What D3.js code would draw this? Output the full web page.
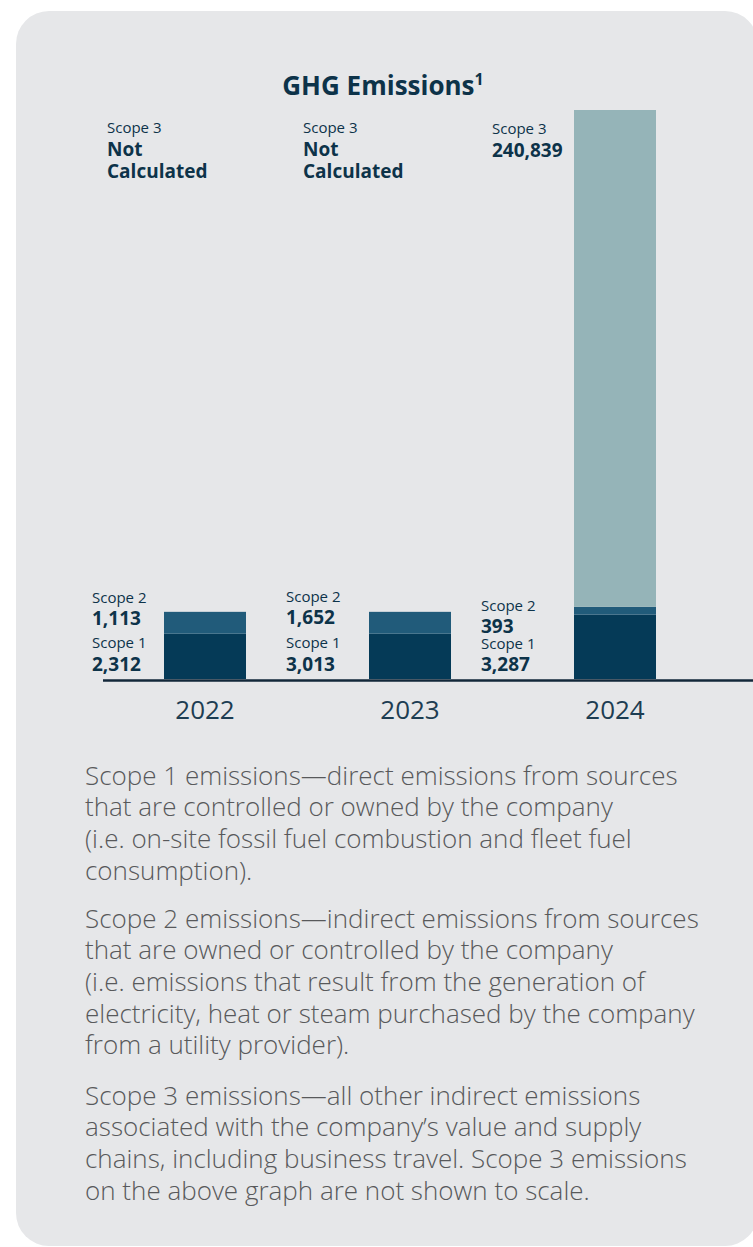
<!DOCTYPE html>
<html>
<head>
<meta charset="utf-8">
<script src="https://cdn.jsdelivr.net/npm/d3@7"></script>
<style>
  html, body { margin: 0; padding: 0; background: #ffffff; }
  svg { display: block; }
  .lbl { font-family: "Open Sans", "Noto Sans", sans-serif; fill: #0d3349; }
  .note { font-family: "Open Sans", "Noto Sans", sans-serif; font-weight: 300; fill: #58595b; }
</style>
</head>
<body>
<script>
"use strict";

// chart values
var years = ["2022", "2023", "2024"];
var scope1 = [2312, 3013, 3287];
var scope2 = [1113, 1652, 393];
var scope3 = [null, null, 240839];
// bar heights as drawn in the source graphic (2023 drawn same as 2022)
var scope1Bar = [2312, 2312, 3287];
var scope2Bar = [1113, 1113, 393];
var scope3Bar = [0, 0, 240839];

var notes = [
    ["Scope 1 emissions\u2014direct emissions from sources",
     "that are controlled or owned by the company",
     "(i.e. on-site fossil fuel combustion and fleet fuel",
     "consumption)."],
    ["Scope 2 emissions\u2014indirect emissions from sources",
     "that are owned or controlled by the company",
     "(i.e. emissions that result from the generation of",
     "electricity, heat or steam purchased by the company",
     "from a utility provider)."],
    ["Scope 3 emissions\u2014all other indirect emissions",
     "associated with the company\u2019s value and supply",
     "chains, including business travel. Scope 3 emissions",
     "on the above graph are not shown to scale."]
];

var width = 753;
var height = 1247;
var baseY = 679;
var colors = { s1: "#053a57", s2: "#215b7a", s3: "#95b4b8" };

var svg = d3.select("body").append("svg")
    .attr("width", width)
    .attr("height", height);

// panel
svg.append("rect")
    .attr("x", 16).attr("y", 11)
    .attr("width", 742).attr("height", 1235)
    .attr("rx", 33).attr("ry", 33)
    .attr("fill", "#e6e7e9");

// title
var title = svg.append("text")
    .attr("class", "lbl")
    .attr("x", 383).attr("y", 95)
    .attr("text-anchor", "middle")
    .style("font-size", "26px")
    .style("font-weight", 700);
title.append("tspan").text("GHG Emissions");
title.append("tspan").attr("dy", -10).style("font-size", "16px").text("1");

var x = d3.scaleBand()
    .domain(years)
    .range([102.5, 717.5])
    .paddingInner(0.6)
    .paddingOuter(0.3);

// scope 3 is not to scale: break the scale above 4000
var stackTop = d3.max(years, function(d, i) { return scope1Bar[i] + scope2Bar[i] + scope3Bar[i]; });
var y = d3.scaleLinear()
    .domain([0, 4000, stackTop])
    .range([baseY, baseY - 4000 / 51, 110]);

var rows = years.map(function(yr, i) {
    return { year: yr, i: i, s1: scope1Bar[i], s2: scope2Bar[i], s3: scope3Bar[i] };
});
var stack = d3.stack().keys(["s1", "s2", "s3"])(rows);

svg.append("g")
    .selectAll("g")
    .data(stack)
    .enter()
    .append("g")
    .attr("fill", function(d) { return colors[d.key]; })
    .selectAll("rect")
    .data(function(d) { return d.filter(function(p) { return p[1] > p[0]; }); })
    .enter()
    .append("rect")
    .attr("x", function(d) { return x(d.data.year); })
    .attr("width", x.bandwidth())
    .attr("y", function(d) { return y(d[1]); })
    .attr("height", function(d) { return y(d[0]) - y(d[1]); });

// baseline + year labels
svg.append("line")
    .attr("x1", 103).attr("x2", width)
    .attr("y1", baseY + 1.5).attr("y2", baseY + 1.5)
    .attr("stroke", "#13283a")
    .attr("stroke-width", 2.5);

var xAxis = svg.append("g")
    .attr("transform", "translate(0," + baseY + ")")
    .call(d3.axisBottom(x).tickSize(0).tickPadding(0));
xAxis.select(".domain").remove();
xAxis.selectAll("text")
    .attr("class", "lbl")
    .attr("dy", 0)
    .attr("y", 40)
    .style("font-size", "26px")
    .style("fill", "#1d3d52");

// value labels
var fmt = d3.format(",");
var lowOffset = [72, 83, 93];
var topOffset = [57, 66, 82];
var lowY = [[603, 625, 648, 671], [602, 624, 648, 671], [611, 633, 649, 671]];

var labels = svg.append("g");
years.forEach(function(yr, i) {
    var lx = x(yr) - lowOffset[i];
    var t = [
        { s: "Scope 2", b: false, yy: lowY[i][0] },
        { s: fmt(scope2[i]), b: true, yy: lowY[i][1] },
        { s: "Scope 1", b: false, yy: lowY[i][2] },
        { s: fmt(scope1[i]), b: true, yy: lowY[i][3] }
    ];
    var tx = x(yr) - topOffset[i];
    if (scope3[i] == null) {
        t.push({ s: "Scope 3", b: false, yy: 133, x: tx });
        t.push({ s: "Not", b: true, yy: 156, x: tx });
        t.push({ s: "Calculated", b: true, yy: 178, x: tx });
    } else {
        t.push({ s: "Scope 3", b: false, yy: 134, x: tx });
        t.push({ s: fmt(scope3[i]), b: true, yy: 157, x: tx });
    }
    labels.selectAll(null)
        .data(t)
        .enter()
        .append("text")
        .attr("class", "lbl")
        .attr("x", function(d) { return d.x != null ? d.x : lx; })
        .attr("y", function(d) { return d.yy; })
        .style("font-size", function(d) { return d.b ? "19px" : "15px"; })
        .style("font-weight", function(d) { return d.b ? 700 : 400; })
        .text(function(d) { return d.s; });
});

// footnotes
var paraTop = [784.5, 927.5, 1104.5];
var lineH = 31.7;
notes.forEach(function(lines, p) {
    svg.append("g")
        .selectAll("text")
        .data(lines)
        .enter()
        .append("text")
        .attr("class", "note")
        .attr("x", 85)
        .attr("y", function(d, i) { return paraTop[p] + i * lineH; })
        .style("font-size", "26px")
        .text(function(d) { return d; });
});
</script>
</body>
</html>
